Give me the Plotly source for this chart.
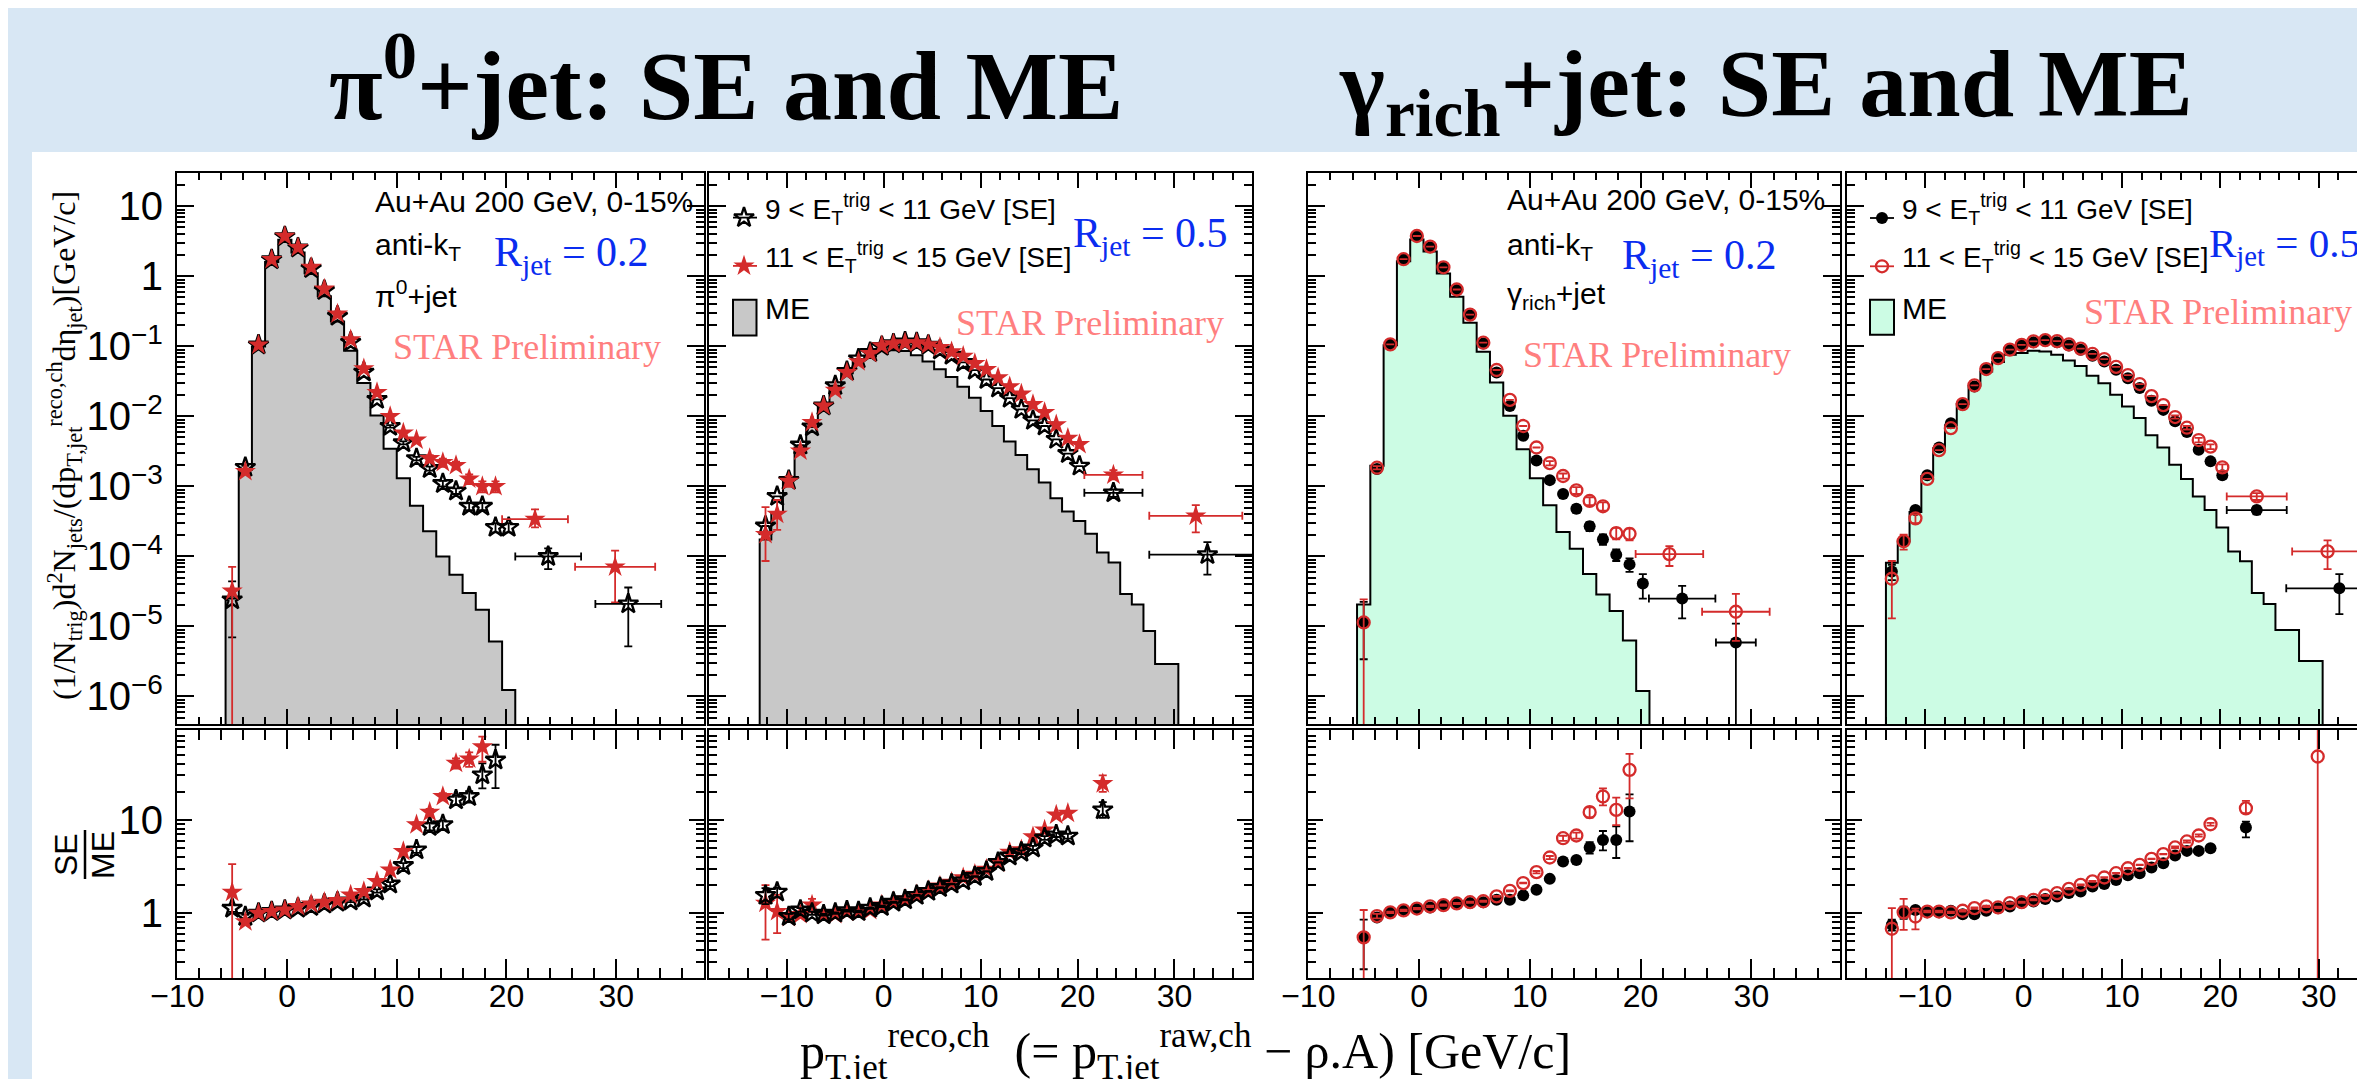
import numpy as np
import plotly.graph_objects as go

W, H = 2365, 1079

# ---------------------------------------------------------------- data
# bin centres (GeV/c); bins are 1.2 GeV/c wide
P1_X = [-5.0, -3.8, -2.6, -1.4, -0.2, 1.0, 2.2, 3.4, 4.6, 5.8, 7.0, 8.2, 9.4, 10.6,
        11.8, 13.0, 14.2, 15.4, 16.6, 17.8, 19.0, 20.2]
P2_X = [-12.2, -11.0, -9.8, -8.6, -7.4, -6.2, -5.0, -3.8, -2.6, -1.4, -0.2, 1.0, 2.2,
        3.4, 4.6, 5.8, 7.0, 8.2, 9.4, 10.6, 11.8, 13.0, 14.2, 15.4, 16.6, 17.8, 19.0,
        20.2, 21.4, 22.6, 23.8, 25.0, 26.2, 27.4, 28.6, 29.8]
P4_X = [-13.4] + P2_X
BIN_W = 1.2

# ---- pi0+jet, R=0.2
P1_ME = [2.5e-5, 1.73e-3, 0.100, 1.60, 3.33, 2.20, 1.11, 0.52, 0.227, 0.0865, 0.030,
         0.0103, 3.44e-3, 1.31e-3, 5.3e-4, 2.28e-4, 1.0e-4, 5.46e-5, 3.0e-5, 1.73e-5,
         6.1e-6, 1.24e-6]
P1_SE_LO = [2.4e-5, 1.87e-3, 0.105, 1.73, 3.70, 2.55, 1.30, 0.63, 0.27, 0.115, 0.043,
            0.0175, 7.2e-3, 4.2e-3, 2.5e-3, 1.8e-3, 1.1e-3, 8.6e-4, 5.2e-4, 5.2e-4,
            2.6e-4, 2.6e-4]
P1_SE_LO_EU = [2.0e-5, 1e-4, 0, 0, 0, 0, 0, 0, 0, 0, 0, 0, 3e-4, 2e-4, 1.5e-4, 1.2e-4,
               1e-4, 8e-5, 6e-5, 6e-5, 4e-5, 4e-5]
P1_SE_LO_ED = [1.7e-5, 1e-4, 0, 0, 0, 0, 0, 0, 0, 0, 0, 0, 3e-4, 2e-4, 1.5e-4, 1.2e-4,
               1e-4, 8e-5, 6e-5, 6e-5, 4e-5, 4e-5]
P1_SE_HI = [3.2e-5, 1.64e-3, 0.105, 1.75, 3.75, 2.60, 1.35, 0.66, 0.29, 0.125, 0.048,
            0.022, 0.010, 5.8e-3, 4.6e-3, 2.5e-3, 2.2e-3, 2.0e-3, 1.28e-3, 1.0e-3, 1.0e-3]
P1_SE_HI_EU = [3.9e-5, 1.5e-4, 0, 0, 0, 0, 0, 0, 0, 0, 0, 0, 5e-4, 4e-4, 3.5e-4, 3e-4,
               3e-4, 2.5e-4, 2e-4, 1.8e-4, 1.8e-4]
P1_SE_HI_ED = [3.19e-5, 1.5e-4, 0, 0, 0, 0, 0, 0, 0, 0, 0, 0, 5e-4, 4e-4, 3.5e-4, 3e-4,
               3e-4, 2.5e-4, 2e-4, 1.8e-4, 1.8e-4]
P1_WIDE_LO_X, P1_WIDE_LO_XE = [23.8, 31.1], [3.0, 3.0]
P1_WIDE_LO_Y, P1_WIDE_LO_EU, P1_WIDE_LO_ED = [1.0e-4, 2.1e-5], [3.0e-5, 1.5e-5], [3.4e-5, 1.58e-5]
P1_WIDE_HI_X, P1_WIDE_HI_XE = [22.6, 29.9], [3.0, 3.65]
P1_WIDE_HI_Y, P1_WIDE_HI_EU, P1_WIDE_HI_ED = [3.4e-4, 7.1e-5], [1.3e-4, 5.0e-5], [0.8e-4, 4.9e-5]

P1_R_LO = [1.13, 0.92, 1.00, 1.04, 1.08, 1.13, 1.18, 1.25, 1.31, 1.35, 1.45, 1.73, 2.05,
           3.24, 4.77, 8.5, 8.9, 16.4, 17.8, 30.4, 43.9]
P1_R_LO_EU = [0.10, 0.04, 0.02, 0.02, 0.02, 0.02, 0.03, 0.03, 0.03, 0.04, 0.05, 0.07,
              0.10, 0.20, 0.35, 0.8, 1.0, 2.0, 2.5, 10.0, 20.0]
P1_R_LO_ED = [0.10, 0.04, 0.02, 0.02, 0.02, 0.02, 0.03, 0.03, 0.03, 0.04, 0.05, 0.07,
              0.10, 0.20, 0.35, 0.8, 1.0, 2.0, 2.5, 8.6, 22.0]
P1_R_HI = [1.68, 0.81, 1.00, 1.04, 1.08, 1.18, 1.25, 1.31, 1.37, 1.57, 1.71, 2.19, 2.91,
           4.58, 8.87, 12.1, 17.8, 40.5, 45.0, 61.0]
P1_R_HI_EU = [1.67, 0.05, 0.03, 0.02, 0.02, 0.03, 0.03, 0.03, 0.04, 0.05, 0.06, 0.10,
              0.15, 0.30, 0.6, 1.0, 1.6, 5.0, 8.0, 17.0]
P1_R_HI_ED = [1.679, 0.05, 0.03, 0.02, 0.02, 0.03, 0.03, 0.03, 0.04, 0.05, 0.06, 0.10,
              0.15, 0.30, 0.6, 1.0, 1.6, 5.0, 8.0, 19.0]

# ---- pi0+jet, R=0.5
P2_ME = [1.75e-4, 4.3e-4, 1.33e-3, 3.6e-3, 7.1e-3, 0.0147, 0.0275, 0.0415, 0.064, 0.0726,
         0.086, 0.088, 0.086, 0.075, 0.0608, 0.0473, 0.0365, 0.0266, 0.0185, 0.012,
         7.3e-3, 4.4e-3, 2.8e-3, 1.76e-3, 1.14e-3, 6.8e-4, 4.4e-4, 3.2e-4, 2.1e-4,
         1.14e-4, 8.2e-5, 2.9e-5, 2.05e-5, 8.6e-6, 2.9e-6, 2.9e-6]
P2_SE_LO = [2.72e-4, 7.2e-4, 1.22e-3, 3.9e-3, 7.1e-3, 0.0141, 0.0275, 0.044, 0.0665,
            0.082, 0.100, 0.109, 0.116, 0.113, 0.104, 0.089, 0.0748, 0.059, 0.0457,
            0.0337, 0.0254, 0.0182, 0.0126, 8.8e-3, 7.3e-3, 4.7e-3, 2.95e-3, 1.95e-3]
P2_SE_HI = [2.06e-4, 4.0e-4, 1.19e-3, 3.2e-3, 8.2e-3, 0.0141, 0.0237, 0.0425, 0.0604,
            0.0792, 0.1026, 0.109, 0.113, 0.113, 0.106, 0.0968, 0.084, 0.0722, 0.057,
            0.0468, 0.0357, 0.0266, 0.021, 0.0148, 0.0114, 7.6e-3, 4.9e-3, 3.97e-3]
P2_SE_HI_EU = [3.0e-4, 2.4e-4, 2e-4] + [0] * 25
P2_SE_HI_ED = [1.2e-4, 1.6e-4, 2e-4] + [0] * 25
P2_WIDE_LO_X, P2_WIDE_LO_XE = [23.7, 33.4], [3.0, 6.0]
P2_WIDE_LO_Y, P2_WIDE_LO_EU, P2_WIDE_LO_ED = [8.1e-4, 1.06e-4], [1.0e-4, 5.4e-5], [1.0e-4, 5.1e-5]
P2_WIDE_HI_X, P2_WIDE_HI_XE = [23.7, 32.2], [3.0, 4.8]
P2_WIDE_HI_Y, P2_WIDE_HI_EU, P2_WIDE_HI_ED = [1.46e-3, 3.8e-4], [2.5e-4, 1.6e-4], [2.0e-4, 1.6e-4]

P2_R_LO = [1.55, 1.68, 0.92, 1.08, 1.00, 0.96, 1.00, 1.06, 1.04, 1.13, 1.18, 1.31, 1.39,
           1.55, 1.71, 1.88, 2.05, 2.22, 2.47, 2.80, 3.50, 4.10, 4.50, 5.00, 6.40, 6.90, 6.70]
P2_R_LO_E = [0.30, 0.20, 0.06, 0.05, 0.04] + [0.02] * 17 + [0.2, 0.25, 0.3, 0.35, 0.4]
P2_R_HI = [1.28, 1.04, 0.90, 0.97, 1.22, 0.95, 0.97, 1.03, 1.03, 1.07, 1.22, 1.33, 1.42,
           1.58, 1.75, 1.95, 2.15, 2.40, 2.62, 2.95, 3.45, 4.50, 4.80, 6.60, 7.80, 11.3, 11.8]
P2_R_HI_EU = [0.72, 0.53, 0.08, 0.06, 0.2] + [0.03] * 17 + [0.25, 0.3, 0.4, 0.6, 0.7]
P2_R_HI_ED = [0.76, 0.43, 0.08, 0.06, 0.2] + [0.03] * 17 + [0.25, 0.3, 0.4, 0.6, 0.7]
P2_R_WIDE_X = [22.6]
P2_R_WIDE_LO, P2_R_WIDE_LO_EU, P2_R_WIDE_LO_ED = [12.8], [2.7], [2.3]
P2_R_WIDE_HI, P2_R_WIDE_HI_EU, P2_R_WIDE_HI_ED = [24.5], [5.5], [4.5]

# ---- gamma_rich+jet, R=0.2
P3_ME = [2.05e-5, 1.98e-3, 0.104, 1.64, 3.37, 2.26, 1.10, 0.512, 0.218, 0.084, 0.0306,
         0.0102, 3.4e-3, 1.31e-3, 5.4e-4, 2.24e-4, 1.29e-4, 5.6e-5, 2.86e-5, 1.66e-5,
         6.3e-6, 1.2e-6]
P3_SE_LO = [1.14e-5, 1.78e-3, 0.106, 1.74, 3.74, 2.60, 1.33, 0.64, 0.279, 0.110, 0.0425,
            0.0141, 5.3e-3, 2.34e-3, 1.23e-3, 7.8e-4, 4.8e-4, 2.7e-4, 1.76e-4, 1.06e-4,
            7.7e-5, 4.1e-5]
P3_SE_LO_EU = [1.1e-5, 1e-4] + [0] * 12 + [1e-4, 8e-5, 6e-5, 4e-5, 3e-5, 2e-5, 1.7e-5, 1.5e-5]
P3_SE_LO_ED = [8.0e-6, 1e-4] + [0] * 12 + [1e-4, 8e-5, 6e-5, 4e-5, 3e-5, 2e-5, 1.7e-5, 1.6e-5]
P3_SE_HI = [1.14e-5, 1.85e-3, 0.107, 1.76, 3.78, 2.66, 1.35, 0.65, 0.285, 0.113, 0.046,
            0.0172, 7.3e-3, 3.6e-3, 2.15e-3, 1.41e-3, 8.8e-4, 6.2e-4, 5.2e-4, 2.15e-4, 2.1e-4]
P3_SE_HI_EU = [1.3e-5, 1e-4] + [0] * 12 + [1.5e-4, 1.2e-4, 1e-4, 8e-5, 7e-5, 4e-5, 4e-5]
P3_SE_HI_ED = [1.139e-5, 1e-4] + [0] * 12 + [1.5e-4, 1.2e-4, 1e-4, 8e-5, 7e-5, 4e-5, 4e-5]
P3_WIDE_LO_X, P3_WIDE_LO_XE = [23.75, 28.6], [3.0, 1.8]
P3_WIDE_LO_Y, P3_WIDE_LO_EU, P3_WIDE_LO_ED = [2.5e-5, 5.9e-6], [1.3e-5, 5.1e-6], [1.2e-5, 5.89e-6]
P3_WIDE_HI_X, P3_WIDE_HI_XE = [22.6, 28.6], [3.05, 3.05]
P3_WIDE_HI_Y, P3_WIDE_HI_EU, P3_WIDE_HI_ED = [1.08e-4, 1.62e-5], [3.2e-5, 1.3e-5], [3.5e-5, 1.0e-5]

P3_R_LO = [0.55, 0.90, 1.02, 1.06, 1.11, 1.15, 1.21, 1.25, 1.28, 1.31, 1.39, 1.39, 1.55,
           1.78, 2.33, 3.58, 3.72, 5.06, 6.10, 6.10, 12.3]
P3_R_LO_EU = [0.3, 0.04] + [0.02] * 11 + [0.05, 0.1, 0.2, 0.3, 0.7, 1.5, 2.4, 6.5]
P3_R_LO_ED = [0.3, 0.04] + [0.02] * 11 + [0.05, 0.1, 0.2, 0.3, 0.7, 1.4, 2.2, 6.4]
P3_R_HI = [0.55, 0.93, 1.02, 1.07, 1.12, 1.18, 1.22, 1.27, 1.31, 1.34, 1.51, 1.73, 2.10,
           2.75, 3.95, 6.36, 6.80, 12.1, 17.8, 12.8, 34.4]
P3_R_HI_EU = [0.53, 0.05] + [0.02] * 11 + [0.08, 0.15, 0.4, 0.5, 1.5, 4.0, 4.5, 16.6]
P3_R_HI_ED = [0.549, 0.05] + [0.02] * 11 + [0.08, 0.15, 0.4, 0.5, 1.5, 3.5, 4.0, 17.4]

# ---- gamma_rich+jet, R=0.5
P4_ME = [8.1e-5, 1.64e-4, 4.3e-4, 1.41e-3, 3.5e-3, 7.5e-3, 0.0151, 0.0275, 0.0437, 0.060,
         0.0758, 0.0805, 0.0865, 0.0845, 0.076, 0.0628, 0.0523, 0.038, 0.0298, 0.0204,
         0.0139, 9.5e-3, 5.4e-3, 3.6e-3, 2.04e-3, 1.28e-3, 7.2e-4, 4.6e-4, 2.6e-4,
         1.18e-4, 8.5e-5, 3.0e-5, 2.1e-5, 8.9e-6, 8.9e-6, 3.2e-6, 3.2e-6]
P4_SE_LO = [6.1e-5, 1.67e-4, 4.6e-4, 1.44e-3, 3.6e-3, 8.0e-3, 0.0147, 0.0268, 0.0463,
            0.068, 0.0894, 0.103, 0.115, 0.120, 0.115, 0.103, 0.0894, 0.0734, 0.061,
            0.0463, 0.0352, 0.0254, 0.0167, 0.0124, 8.5e-3, 5.97e-3, 3.33e-3, 2.28e-3, 1.44e-3]
P4_SE_LO_EU = [1.5e-5, 2e-5] + [0] * 22 + [4e-4, 3e-4, 2.5e-4, 2e-4, 1.6e-4]
P4_SE_LO_ED = [1.5e-5, 2e-5] + [0] * 22 + [4e-4, 3e-4, 2.5e-4, 2e-4, 1.6e-4]
P4_SE_HI = [4.8e-5, 1.65e-4, 3.5e-4, 1.28e-3, 3.3e-3, 6.8e-3, 0.0150, 0.0278, 0.0475,
            0.068, 0.090, 0.105, 0.118, 0.123, 0.119, 0.107, 0.093, 0.078, 0.066, 0.051,
            0.039, 0.029, 0.0195, 0.0145, 9.8e-3, 6.9e-3, 4.6e-3, 3.7e-3, 1.87e-3]
P4_SE_HI_EU = [3.8e-5, 4e-5, 5e-5] + [0] * 21 + [5e-4, 4e-4, 3.5e-4, 3e-4, 2e-4]
P4_SE_HI_ED = [3.5e-5, 4e-5, 5e-5] + [0] * 21 + [5e-4, 4e-4, 3.5e-4, 3e-4, 2e-4]
P4_WIDE_LO_X, P4_WIDE_LO_XE = [23.7, 32.1], [3.05, 5.4]
P4_WIDE_LO_Y, P4_WIDE_LO_EU, P4_WIDE_LO_ED = [4.6e-4, 3.5e-5], [0.6e-4, 2.1e-5], [0.6e-4, 2.0e-5]
P4_WIDE_HI_X, P4_WIDE_HI_XE = [23.7, 30.9], [3.05, 3.6]
P4_WIDE_HI_Y, P4_WIDE_HI_EU, P4_WIDE_HI_ED = [7.2e-4, 1.18e-4], [0.8e-4, 5.2e-5], [0.8e-4, 5.2e-5]

P4_R_LO = [0.75, 1.02, 1.08, 1.02, 1.02, 1.06, 0.975, 0.975, 1.06, 1.13, 1.18, 1.28, 1.33,
           1.42, 1.51, 1.64, 1.71, 1.93, 2.05, 2.27, 2.54, 2.68, 3.09, 3.43, 4.16, 4.65,
           4.65, 4.97]
P4_R_LO_E = [0.1, 0.15, 0.08] + [0.02] * 21 + [0.1, 0.12, 0.12, 0.15]
P4_R_HI = [0.68, 1.02, 0.92, 1.04, 1.04, 1.02, 1.06, 1.13, 1.18, 1.15, 1.28, 1.31, 1.39,
           1.55, 1.64, 1.82, 2.01, 2.19, 2.41, 2.68, 3.03, 3.29, 3.82, 4.29, 5.06, 5.87,
           6.80, 8.98]
P4_R_HI_EU = [0.45, 0.40, 0.20] + [0.02] * 21 + [0.12, 0.15, 0.2, 0.3]
P4_R_HI_ED = [0.679, 0.36, 0.25] + [0.02] * 21 + [0.12, 0.15, 0.2, 0.3]
P4_R_WIDE_LO_X = [22.6]
P4_R_WIDE_LO, P4_R_WIDE_LO_EU, P4_R_WIDE_LO_ED = [8.28], [1.3], [1.8]
P4_R_WIDE_HI_X = [22.6, 29.9]
P4_R_WIDE_HI, P4_R_WIDE_HI_EU, P4_R_WIDE_HI_ED = [13.3, 47.8], [2.7, 1000.0], [1.5, 47.75]

# ---------------------------------------------------------------- style / layout constants
RED = "#d42b2b"
GRAY = "#c8c8c8"
MINT = "#ccfce4"
BLUE = "#0a2cf0"
PINK = "#ff7f7f"
BG = "#d8e7f4"
SANS = "Liberation Sans, Arial, Helvetica, sans-serif"
SERIF = "Liberation Serif, Times New Roman, serif"

PANEL_X = [(169.3, 696.0), (701.3, 1244.0), (1300.3, 1832.0), (1838.6, 2365.0)]
TOP_Y = (165.0, 716.3)
BOT_Y = (722.0, 970.3)
XRANGES = [[-10, 38], [-18, 38], [-10, 38], [-18, 35.52]]
TOP_YR = [np.log10(4e-7), np.log10(30)]
BOT_YR = [np.log10(0.2), np.log10(92)]


def fx(p):
    return p / W


def fy(p):
    return 1 - p / H


def ref(letter, n):
    return letter if n == 1 else f"{letter}{n}"


def axkey(letter, n):
    return f"{letter}axis" if n == 1 else f"{letter}axis{n}"


fig = go.Figure()


def marker(kind, color):
    if kind == "star-open":
        return dict(symbol="star-open", size=15, color=color, line=dict(width=2.4, color=color))
    if kind == "star":
        return dict(symbol="star", size=16, color=color, line=dict(width=0))
    if kind == "circle":
        return dict(symbol="circle", size=12, color=color, line=dict(width=0))
    return dict(symbol="circle-open", size=12, color=color, line=dict(width=2.3, color=color))


def hist(centres, vals, n, fill):
    left = [c - BIN_W / 2 for c in centres]
    right_end = centres[-1] + BIN_W / 2
    floor = 1e-10
    xs = [left[0]] + left + [right_end, right_end]
    ys = [floor] + list(vals) + [vals[-1], floor]
    fig.add_trace(go.Scatter(x=xs, y=ys, mode="lines", line=dict(shape="hv", color="black", width=2),
                             fill="toself", fillcolor=fill, xaxis=ref("x", n), yaxis=ref("y", n),
                             hoverinfo="skip", showlegend=False))


def points(x, y, eu, ed, n, kind, color, xe=None):
    tr = go.Scatter(x=x, y=y, mode="markers", marker=marker(kind, color),
                    xaxis=ref("x", n), yaxis=ref("y", n),
                    error_y=dict(type="data", symmetric=False, array=eu, arrayminus=ed,
                                 color=color, thickness=1.8, width=4),
                    hoverinfo="skip", showlegend=False, cliponaxis=True)
    if xe is not None:
        tr.error_x = dict(type="data", array=xe, color=color, thickness=1.8, width=4)
    fig.add_trace(tr)


# ---- panel 1 (pi0, R=0.2)
hist(P1_X, P1_ME, 1, GRAY)
points(P1_X[:22], P1_SE_LO, P1_SE_LO_EU, P1_SE_LO_ED, 1, "star-open", "black")
points(P1_X[:21], P1_SE_HI, P1_SE_HI_EU, P1_SE_HI_ED, 1, "star", RED)
points(P1_WIDE_HI_X, P1_WIDE_HI_Y, P1_WIDE_HI_EU, P1_WIDE_HI_ED, 1, "star", RED, P1_WIDE_HI_XE)
points(P1_WIDE_LO_X, P1_WIDE_LO_Y, P1_WIDE_LO_EU, P1_WIDE_LO_ED, 1, "star-open", "black", P1_WIDE_LO_XE)
points(P1_X[:21], P1_R_LO, P1_R_LO_EU, P1_R_LO_ED, 5, "star-open", "black")
points(P1_X[:20], P1_R_HI, P1_R_HI_EU, P1_R_HI_ED, 5, "star", RED)

# ---- panel 2 (pi0, R=0.5)
hist(P2_X, P2_ME, 2, GRAY)
points(P2_X[:28], P2_SE_LO, [0] * 28, [0] * 28, 2, "star-open", "black")
points(P2_X[:28], P2_SE_HI, P2_SE_HI_EU, P2_SE_HI_ED, 2, "star", RED)
points(P2_WIDE_HI_X, P2_WIDE_HI_Y, P2_WIDE_HI_EU, P2_WIDE_HI_ED, 2, "star", RED, P2_WIDE_HI_XE)
points(P2_WIDE_LO_X, P2_WIDE_LO_Y, P2_WIDE_LO_EU, P2_WIDE_LO_ED, 2, "star-open", "black", P2_WIDE_LO_XE)
points(P2_X[:27], P2_R_HI, P2_R_HI_EU, P2_R_HI_ED, 6, "star", RED)
points(P2_X[:27], P2_R_LO, P2_R_LO_E, P2_R_LO_E, 6, "star-open", "black")
points(P2_R_WIDE_X, P2_R_WIDE_HI, P2_R_WIDE_HI_EU, P2_R_WIDE_HI_ED, 6, "star", RED)
points(P2_R_WIDE_X, P2_R_WIDE_LO, P2_R_WIDE_LO_EU, P2_R_WIDE_LO_ED, 6, "star-open", "black")

# ---- panel 3 (gamma_rich, R=0.2)
hist(P1_X, P3_ME, 3, MINT)
points(P1_X[:22], P3_SE_LO, P3_SE_LO_EU, P3_SE_LO_ED, 3, "circle", "black")
points(P1_X[:21], P3_SE_HI, P3_SE_HI_EU, P3_SE_HI_ED, 3, "circle-open", RED)
points(P3_WIDE_LO_X, P3_WIDE_LO_Y, P3_WIDE_LO_EU, P3_WIDE_LO_ED, 3, "circle", "black", P3_WIDE_LO_XE)
points(P3_WIDE_HI_X, P3_WIDE_HI_Y, P3_WIDE_HI_EU, P3_WIDE_HI_ED, 3, "circle-open", RED, P3_WIDE_HI_XE)
points(P1_X[:21], P3_R_LO, P3_R_LO_EU, P3_R_LO_ED, 7, "circle", "black")
points(P1_X[:21], P3_R_HI, P3_R_HI_EU, P3_R_HI_ED, 7, "circle-open", RED)

# ---- panel 4 (gamma_rich, R=0.5)
hist(P4_X, P4_ME, 4, MINT)
points(P4_X[:29], P4_SE_LO, P4_SE_LO_EU, P4_SE_LO_ED, 4, "circle", "black")
points(P4_X[:29], P4_SE_HI, P4_SE_HI_EU, P4_SE_HI_ED, 4, "circle-open", RED)
points(P4_WIDE_LO_X, P4_WIDE_LO_Y, P4_WIDE_LO_EU, P4_WIDE_LO_ED, 4, "circle", "black", P4_WIDE_LO_XE)
points(P4_WIDE_HI_X, P4_WIDE_HI_Y, P4_WIDE_HI_EU, P4_WIDE_HI_ED, 4, "circle-open", RED, P4_WIDE_HI_XE)
points(P4_X[:28], P4_R_LO, P4_R_LO_E, P4_R_LO_E, 8, "circle", "black")
points(P4_X[:28], P4_R_HI, P4_R_HI_EU, P4_R_HI_ED, 8, "circle-open", RED)
points(P4_R_WIDE_LO_X, P4_R_WIDE_LO, P4_R_WIDE_LO_EU, P4_R_WIDE_LO_ED, 8, "circle", "black")
points(P4_R_WIDE_HI_X, P4_R_WIDE_HI, P4_R_WIDE_HI_EU, P4_R_WIDE_HI_ED, 8, "circle-open", RED)

# ---- legend keys drawn on a full-figure pixel canvas (axes x9/y9)
for (mx, my, lx0, lx1, kind, col) in [
        (736, 209.6, 725, 749, "star-open", "black"), (736, 257.9, 725, 749, "star", RED),
        (1874, 210.0, 1862, 1886, "circle", "black"), (1874, 258.3, 1862, 1886, "circle-open", RED)]:
    fig.add_trace(go.Scatter(x=[lx0, lx1], y=[my, my], mode="lines", line=dict(color=col, width=1.8),
                             xaxis="x9", yaxis="y9", hoverinfo="skip", showlegend=False))
    fig.add_trace(go.Scatter(x=[mx], y=[my], mode="markers", marker=marker(kind, col),
                             xaxis="x9", yaxis="y9", hoverinfo="skip", showlegend=False))

# ---------------------------------------------------------------- axes
layout = dict(width=W, height=H, margin=dict(l=0, r=0, t=0, b=0, pad=0, autoexpand=False),
              autosize=False, paper_bgcolor=BG, plot_bgcolor="rgba(0,0,0,0)",
              showlegend=False, hovermode=False)

tickfont = dict(family=SANS, size=32, color="black")
for i in range(4):
    x0, x1 = PANEL_X[i]
    for pad in (0, 1):
        n = i + 1 + 4 * pad
        ylo, yhi = (TOP_Y if pad == 0 else BOT_Y)
        last = (i == 3)
        layout[axkey("x", n)] = dict(
            domain=[fx(x0), fx(x1)], range=XRANGES[i], anchor=ref("y", n), automargin=False,
            showline=True, linecolor="black", linewidth=2, mirror="allticks",
            ticks="inside", ticklen=(15 if pad == 0 else 19), tickwidth=2, tickcolor="black",
            tick0=0, dtick=10, showgrid=False, zeroline=False,
            showticklabels=(pad == 1), tickfont=tickfont, ticklabelstandoff=-12,
            minor=dict(ticks="inside", ticklen=(7 if pad == 0 else 10), tickwidth=1.5,
                       tickcolor="black", tick0=0, dtick=2, showgrid=False))
        layout[axkey("y", n)] = dict(
            domain=[fy(yhi), fy(ylo)], type="log", range=(TOP_YR if pad == 0 else BOT_YR),
            anchor=ref("x", n), automargin=False, showline=True, linecolor="black", linewidth=2,
            mirror=(False if last else "allticks"),
            ticks="inside", ticklen=(17 if pad == 0 else 15), tickwidth=2, tickcolor="black",
            dtick=1, exponentformat="power", showgrid=False, zeroline=False,
            showticklabels=(i == 0), tickfont=tickfont, ticklabelstandoff=6,
            minor=dict(ticks="inside", ticklen=8, tickwidth=1.5, tickcolor="black",
                       dtick="D1", showgrid=False))

layout["xaxis9"] = dict(domain=[0, 1], range=[0, W], visible=False, anchor="y9",
                        fixedrange=True, automargin=False)
layout["yaxis9"] = dict(domain=[0, 1], range=[H, 0], visible=False, anchor="x9",
                        fixedrange=True, automargin=False)

# ---------------------------------------------------------------- shapes
shapes = [dict(type="rect", xref="paper", yref="paper", x0=fx(24), x1=1, y0=0, y1=fy(144),
               fillcolor="white", line=dict(width=0), layer="below")]
for i in range(4):
    n = i + 5
    shapes.append(dict(type="line", xref=f"{ref('x', n)} domain", yref=ref("y", n), x0=0, x1=1,
                       y0=0, y1=0, line=dict(color="black", width=2, dash="dash")))
shapes.append(dict(type="rect", xref="paper", yref="paper", x0=fx(725), x1=fx(748.5),
                   y0=fy(327.5), y1=fy(291.8), fillcolor=GRAY, line=dict(color="black", width=2)))
shapes.append(dict(type="rect", xref="paper", yref="paper", x0=fx(1862), x1=fx(1886),
                   y0=fy(326.7), y1=fy(291.7), fillcolor=MINT, line=dict(color="black", width=2)))
shapes.append(dict(type="line", xref="paper", yref="paper", x0=fx(77), x1=fx(77),
                   y0=fy(871), y1=fy(822), line=dict(color="black", width=2.5)))
layout["shapes"] = shapes

# ---------------------------------------------------------------- annotations
ann = []
DX = -4   # small correction for the annotation box padding of left-anchored text


def text(t, x, y, size, color="black", family=SANS, xanchor="left", yanchor="middle", angle=0):
    if xanchor == "left":
        x = x + DX
    ann.append(dict(text=t, x=fx(x), y=fy(y), xref="paper", yref="paper", showarrow=False,
                    xanchor=xanchor, yanchor=yanchor, textangle=angle,
                    font=dict(family=family, size=size, color=color)))


# titles
text("<b>π<sup>0</sup>+jet: SE and ME</b>", 718, 70, 98, family=SERIF, xanchor="center")
text("<b>γ<sub>rich</sub>+jet: SE and ME</b>", 1758, 82, 96, family=SERIF, xanchor="center")

# panel 1
text("Au+Au 200 GeV, 0-15%", 369, 193, 30)
text("anti-k<sub>T</sub>", 369, 238, 30)
text("π<sup>0</sup>+jet", 369, 286, 30)
text("R<sub>jet</sub> = 0.2", 488, 247, 42, BLUE, SERIF)
text("STAR Preliminary", 387, 339, 36, PINK, SERIF)
# panel 2
text("9 < E<sub>T</sub><sup>trig</sup> < 11 GeV [SE]", 759, 201, 28)
text("11 < E<sub>T</sub><sup>trig</sup> < 15 GeV [SE]", 759, 249, 28)
text("ME", 759, 300, 30)
text("R<sub>jet</sub> = 0.5", 1067, 228, 42, BLUE, SERIF)
text("STAR Preliminary", 950, 315, 36, PINK, SERIF)
# panel 3
text("Au+Au 200 GeV, 0-15%", 1501, 192, 30)
text("anti-k<sub>T</sub>", 1501, 238, 30)
text("γ<sub>rich</sub>+jet", 1501, 287, 30)
text("R<sub>jet</sub> = 0.2", 1616, 250, 42, BLUE, SERIF)
text("STAR Preliminary", 1517, 347, 36, PINK, SERIF)
# panel 4
text("9 < E<sub>T</sub><sup>trig</sup> < 11 GeV [SE]", 1896, 201, 28)
text("11 < E<sub>T</sub><sup>trig</sup> < 15 GeV [SE]", 1896, 249, 28)
text("ME", 1896, 300, 30)
text("R<sub>jet</sub> = 0.5", 2203, 238, 41, BLUE, SERIF)
text("STAR Preliminary", 2078, 304, 36, PINK, SERIF)

# axis titles
text("(1/N<sub>trig</sub>)d<sup>2</sup>N<sub>jets</sub>/(dp<sub>T,jet</sub><sup>reco,ch</sup>"
     "dη<sub>jet</sub>)[GeV/c]", 56, 438, 32, family=SERIF, xanchor="center", angle=-90)
text("SE", 58, 847, 32, xanchor="center", angle=-90)
text("ME", 95, 847, 32, xanchor="center", angle=-90)
text("p<sub>T,jet</sub><sup>reco,ch</sup>  (= p<sub>T,jet</sub><sup>raw,ch</sup> − ρ.A) [GeV/c]",
     1177, 1043, 50, family=SERIF, xanchor="center")

layout["annotations"] = ann
fig.update_layout(**layout)
fig.write_html("out.html")
